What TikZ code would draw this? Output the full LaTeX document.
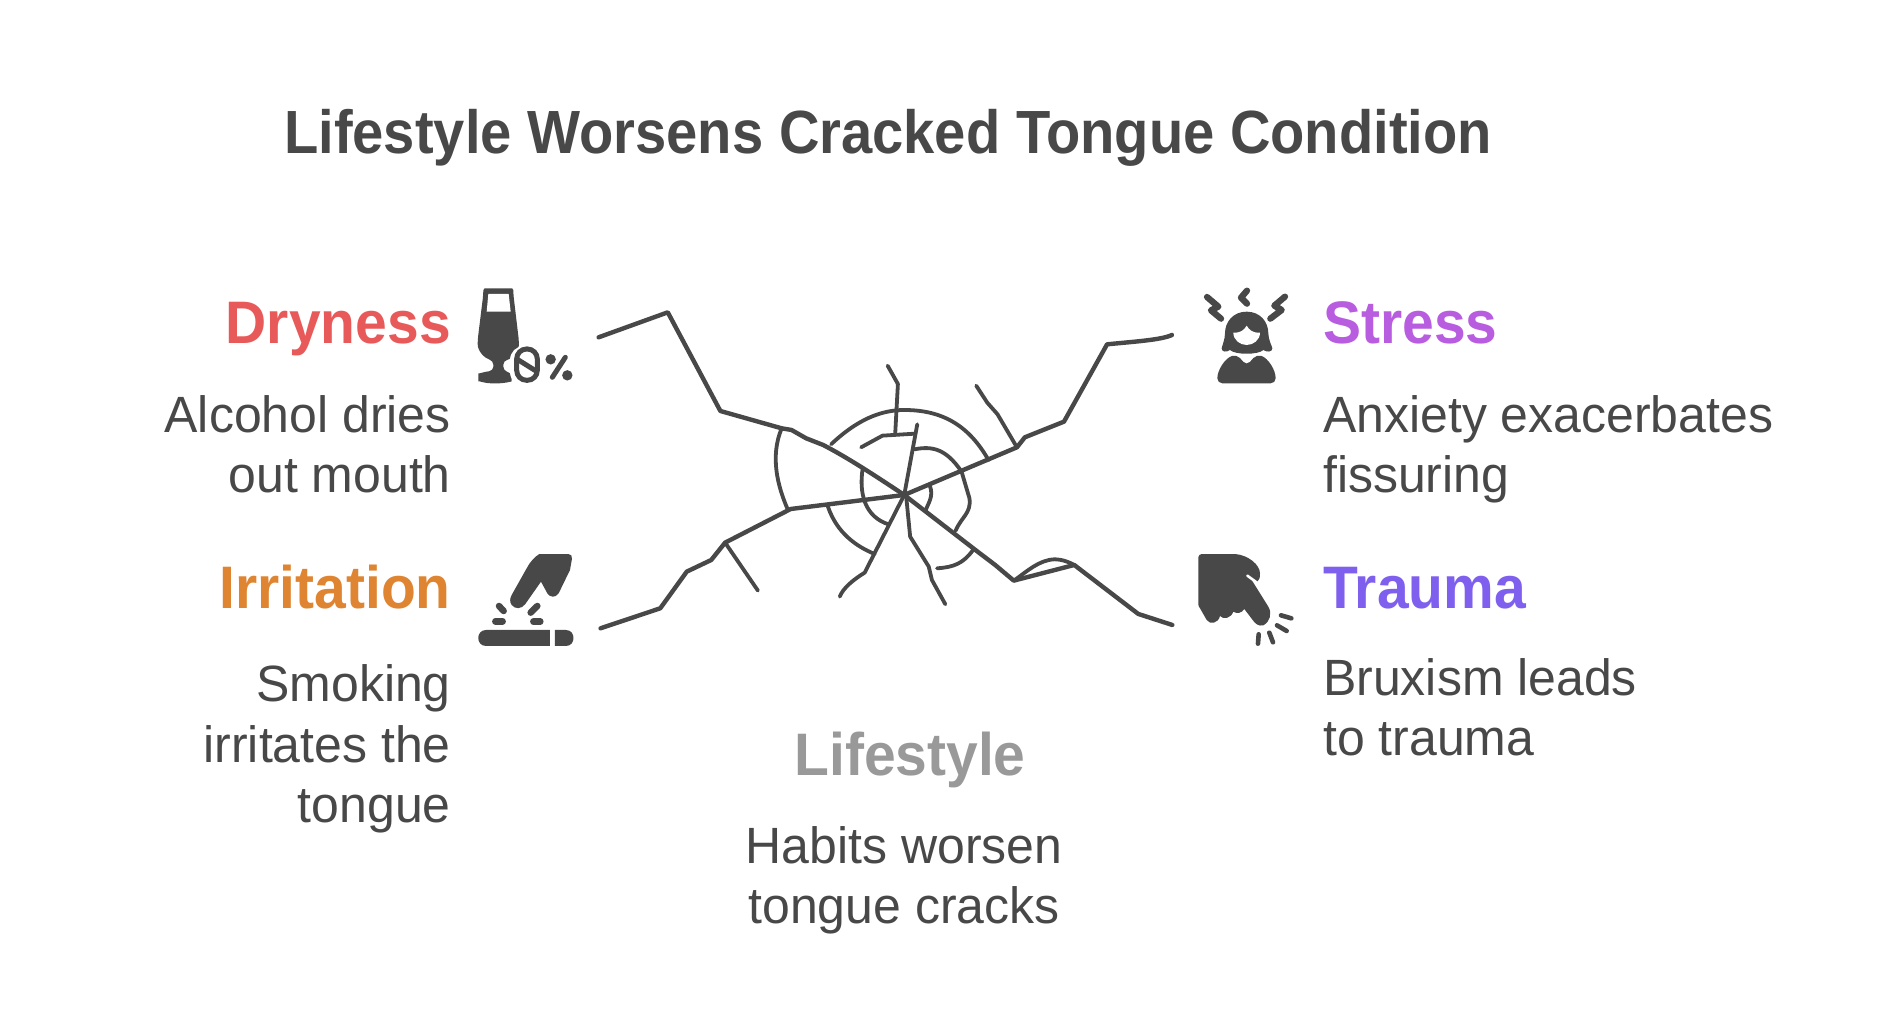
\documentclass[tikz,border=0pt]{standalone}
\usepackage{fontspec}
\setmainfont{Liberation Sans}
\newfontfamily\titlefam[FakeStretch=0.92]{Liberation Sans}
\newfontfamily\headfam[FakeStretch=0.95]{Liberation Sans}
\newfontfamily\bodyfam[FakeStretch=0.98]{Liberation Sans}
\definecolor{ink}{HTML}{484848}
\definecolor{cDry}{HTML}{E85A5A}
\definecolor{cIrr}{HTML}{DF8430}
\definecolor{cStr}{HTML}{B85CE0}
\definecolor{cTra}{HTML}{7F60EE}
\definecolor{cLif}{HTML}{999999}
\tikzset{
  x=1pt,y=-1pt,
  titletext/.style={inner sep=0pt,text=ink,font=\titlefam\fontsize{61}{60}\selectfont\bfseries},
  headtext/.style={inner sep=0pt,font=\headfam\fontsize{60}{60}\selectfont\bfseries},
  bodytext/.style={inner sep=0pt,text=ink,font=\bodyfam\fontsize{51}{60.4}\selectfont},
  crack/.style={draw=ink,line width=4.4pt,line cap=round,line join=round},
  thincrack/.style={draw=ink,line width=3.8pt,line cap=round,line join=round},
  icon/.style={fill=ink,draw=none},
  spark/.style={draw=ink,line cap=round,line join=round}
}
\begin{document}
\begin{tikzpicture}
\useasboundingbox (0,0) rectangle (1896,1032);
\fill[white] (0,0) rectangle (1896,1032);
\node[titletext,anchor=base west] (title) at (284,154) {Lifestyle Worsens Cracked Tongue Condition};
\node[headtext,text=cDry,anchor=base east] (dry) at (451,344) {Dryness};
\node[bodytext,anchor=north east,align=right] (dryb) at (451,395) {Alcohol dries\\out mouth};
\node[headtext,text=cIrr,anchor=base east] (irr) at (451,608) {Irritation};
\node[bodytext,anchor=north east,align=right] (irrb) at (451,664.5) {Smoking\\irritates the\\tongue};
\node[headtext,text=cStr,anchor=base west] (str) at (1323,344) {Stress};
\node[bodytext,anchor=north west,align=left] (strb) at (1323,395) {Anxiety exacerbates\\fissuring};
\node[headtext,text=cTra,anchor=base west] (tra) at (1323,608) {Trauma};
\node[bodytext,anchor=north west,align=left] (trab) at (1323,658) {Bruxism leads\\to trauma};
\node[headtext,text=cLif,anchor=base] (lif) at (910,775) {Lifestyle};
\node[bodytext,anchor=north,align=center] (lifb) at (904,826) {Habits worsen\\tongue cracks};
% cracks
\begin{scope}[shift={(580,280)},x=0.3954pt,y=-0.3333pt]
\draw[crack] (47,172) -- (222,97) -- (355,393) -- (510,445) -- (535,450) -- (572,475) -- (615,495) .. controls (680,535) and (750,590) .. (820,645);
\draw[crack] (52,1045) -- (203,985) -- (270,875) -- (332,840) -- (367,788) -- (533,687) -- (820,645);
\draw[crack] (1497,165) .. controls (1470,180) and (1400,185) .. (1333,193) -- (1224,425) -- (1125,472) -- (1105,502) -- (820,645);
\draw[crack] (1498,1035) -- (1412,1002) -- (1250,855) -- (1097,902) -- (1050,855) -- (1000,810) -- (820,645);
\draw[thincrack] (1097,902) .. controls (1130,875) and (1160,840) .. (1200,838) .. controls (1220,838) and (1240,848) .. (1250,855);
\draw[thincrack] (367,788) -- (450,932);
\draw[thincrack] (510,445) .. controls (480,530) and (500,620) .. (526,690);
\draw[thincrack] (635,493) .. controls (700,420) and (760,390) .. (820,390) .. controls (920,390) and (985,440) .. (1033,540);
\draw[thincrack] (1002,317) -- (1030,368) -- (1056,403) -- (1105,502);
\draw[thincrack] (778,257) -- (804,312) -- (797,465);
\draw[thincrack] (711,502) -- (765,467) -- (848,461);
\draw[thincrack] (853,433) -- (820,645);
\draw[thincrack] (846,508) .. controls (890,498) and (925,505) .. (965,575) -- (985,655) .. controls (990,700) and (965,710) .. (950,752);
\draw[thincrack] (885,618) .. controls (895,650) and (880,670) .. (874,692);
\draw[thincrack] (715,565) .. controls (705,640) and (720,710) .. (780,733);
\draw[thincrack] (627,680) .. controls (650,760) and (700,800) .. (745,822);
\draw[thincrack] (820,645) -- (720,878) .. controls (690,900) and (665,925) .. (657,950);
\draw[thincrack] (825,650) -- (835,770) -- (882,860) -- (890,900) -- (924,973);
\draw[thincrack] (994,810) .. controls (970,850) and (945,862) .. (903,865);
\end{scope}
% Dryness icon
\begin{scope}[shift={(460,270)},x=0.3333pt,y=-0.3333pt]
\fill[icon,rounded corners=4pt] (70,72) .. controls (70,60) and (76,55) .. (85,55) -- (145,55) .. controls (155,55) and (160,60) .. (160,72) -- (177,215) .. controls (175,255) and (150,268) .. (130,272) -- (130,302) .. controls (150,308) and (155,315) .. (155,322) .. controls (155,335) and (130,340) .. (105,340) .. controls (75,340) and (55,332) .. (55,322) .. controls (55,312) and (70,306) .. (100,302) -- (100,272) .. controls (75,265) and (53,245) .. (53,210) -- cycle;
\fill[white] (85,72) -- (146,72) -- (152,125) -- (80,125) -- cycle;
\fill[white,rounded corners=14pt] (150,228) rectangle (248,348);
\draw[ink,line width=5pt,rounded corners=10pt] (170,237) rectangle (232,331);
\draw[ink,line width=5pt,line cap=round] (172,268) -- (228,303);
\fill[ink] (272,268) circle (5.2pt);
\fill[ink] (322,316) circle (5.2pt);
\draw[ink,line width=5pt,line cap=round] (316,262) -- (277,322);
\end{scope}
% Irritation icon
\begin{scope}[shift={(460,540)},x=0.3333pt,y=-0.3333pt]
\fill[icon] (238,42) -- (325,42) .. controls (333,42) and (337,48) .. (336,56) -- (330,90) -- (296,160) .. controls (285,175) and (270,172) .. (262,160) -- (243,125) -- (196,192) .. controls (185,208) and (165,208) .. (155,195) .. controls (148,185) and (150,175) .. (155,165) -- (200,85) .. controls (210,65) and (225,50) .. (238,42) -- cycle;
\draw[spark,line width=6.5pt] (117,198) -- (131,213);
\draw[spark,line width=6.5pt] (212,218) -- (232,198);
\draw[spark,line width=6.5pt] (106,244) -- (128,244);
\draw[spark,line width=6.5pt] (220,245) -- (241,245);
\fill[icon] (78,270) -- (270,270) -- (270,318) -- (78,318) .. controls (47,318) and (47,270) .. (78,270) -- cycle;
\fill[icon] (285,270) -- (318,270) .. controls (348,270) and (348,318) .. (318,318) -- (285,318) -- cycle;
\end{scope}
% Stress icon
\begin{scope}[shift={(1185,275)},x=0.3333pt,y=-0.3333pt]
\draw[spark,line width=6.3pt] (66,66) -- (100,95) -- (78,106) -- (108,131);
\draw[spark,line width=6.3pt] (186,47) -- (168,68) -- (186,86);
\draw[spark,line width=6.3pt] (300,65) -- (268,92) -- (290,105) -- (256,131);
\fill[icon] (185,110) .. controls (225,110) and (250,140) .. (250,175) .. controls (250,195) and (262,215) .. (262,220) .. controls (262,232) and (245,232) .. (235,225) .. controls (220,240) and (150,240) .. (135,225) .. controls (125,232) and (110,232) .. (110,220) .. controls (110,215) and (120,195) .. (120,175) .. controls (120,140) and (145,110) .. (185,110) -- cycle;
\fill[white] (145,173) .. controls (165,175) and (178,165) .. (185,152) .. controls (192,165) and (205,175) .. (225,173) .. controls (225,195) and (205,210) .. (185,210) .. controls (165,210) and (145,195) .. (145,173) -- cycle;
\fill[icon,rounded corners=5pt] (97,325) .. controls (97,285) and (120,250) .. (155,238) -- (185,272) -- (215,238) .. controls (250,250) and (272,285) .. (272,325) -- cycle;
\end{scope}
% Trauma icon
\begin{scope}[shift={(1185,540)},x=0.3333pt,y=-0.3333pt]
\fill[icon] (50,42) -- (150,42) .. controls (190,45) and (225,75) .. (225,100) .. controls (226,112) and (222,122) .. (215,128) -- (195,112) -- (250,200) .. controls (262,220) and (255,245) .. (235,256) .. controls (220,260) and (210,250) .. (203,240) -- (178,207) .. controls (170,220) and (155,222) .. (145,215) .. controls (138,235) and (115,240) .. (105,228) .. controls (100,250) and (75,255) .. (65,240) -- (45,205) .. controls (40,200) and (40,195) .. (40,190) -- (40,52) .. controls (40,47) and (45,42) .. (50,42) -- cycle;
\draw[white,line width=2.6pt,line cap=round] (187,107) -- (216,128);
\draw[spark,line width=4.6pt] (288,226) -- (319,235);
\draw[spark,line width=4.6pt] (276,256) -- (305,273);
\draw[spark,line width=4.6pt] (253,278) -- (264,307);
\draw[spark,line width=4.6pt] (221,283) -- (219,311);
\end{scope}
\end{tikzpicture}
\end{document}
